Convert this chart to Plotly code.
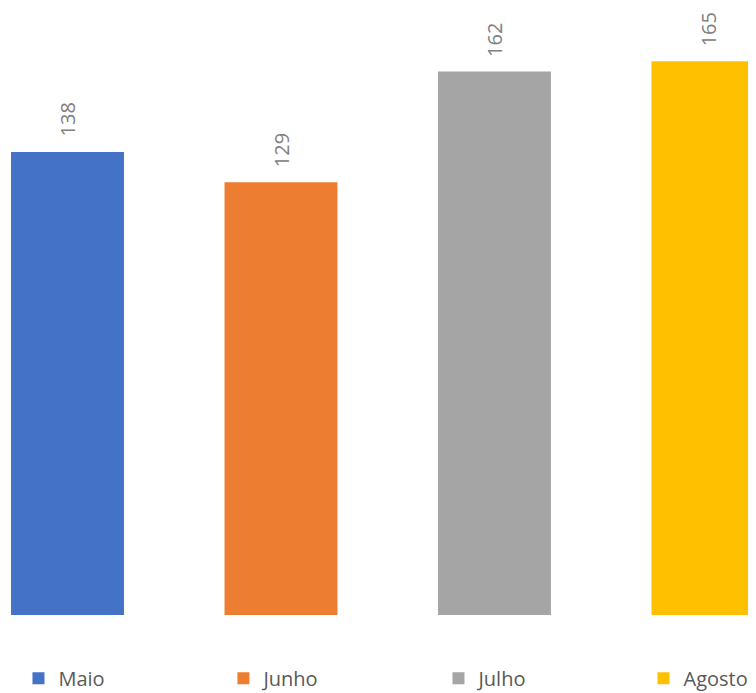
import plotly.graph_objects as go

months = ["Maio", "Junho", "Julho", "Agosto"]
values = [138, 129, 162, 165]
colors = ["#4472C4", "#ED7D31", "#A5A5A5", "#FFC000"]
legend_x = [0.014, 0.288, 0.5755, 0.8496]

FONT = "Open Sans"
W, H = 748, 685

fig = go.Figure()
legend_ids = ["legend", "legend2", "legend3", "legend4"]
for m, v, c, lid in zip(months, values, colors, legend_ids):
    fig.add_trace(go.Bar(
        x=[m], y=[v], name=m, marker=dict(color=c, line=dict(width=0)),
        width=0.529, offset=-0.2645, legend=lid,
    ))
    fig.add_annotation(
        x=m, y=v, text=str(v), showarrow=False, textangle=-90,
        xanchor="center", yanchor="bottom", yshift=13,
        font=dict(family=FONT, size=20, color="#808080"),
    )

legend_style = dict(
    orientation="h", xanchor="left", y=-0.104, yanchor="middle",
    font=dict(family=FONT, size=20, color="#595959"),
    itemclick=False, itemdoubleclick=False, bgcolor="rgba(0,0,0,0)",
)
layout_legends = {lid: dict(x=lx, **legend_style) for lid, lx in zip(legend_ids, legend_x)}

fig.update_layout(
    width=W, height=H,
    margin=dict(l=0, r=0, t=0, b=78, autoexpand=False),
    paper_bgcolor="white", plot_bgcolor="white",
    barmode="overlay",
    showlegend=True,
    xaxis=dict(
        type="category", range=[-0.2787, 3.225], showgrid=False,
        showticklabels=False, zeroline=False, showline=False, ticks="",
        categoryorder="array", categoryarray=months,
    ),
    yaxis=dict(
        range=[0, 180.9], showgrid=False, showticklabels=False,
        zeroline=False, showline=False, ticks="",
    ),
    font=dict(family=FONT),
    **layout_legends,
)

fig.write_html("out.html")
